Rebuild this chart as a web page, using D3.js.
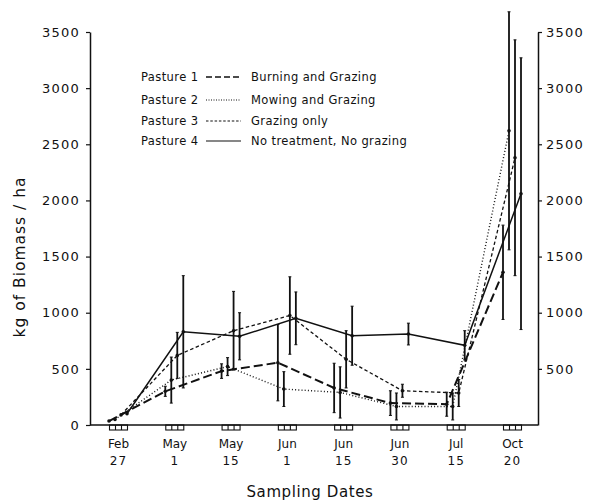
<!DOCTYPE html>
<html>
<head>
<meta charset="utf-8">
<script src="https://cdn.jsdelivr.net/npm/d3@7"></script>
<style>
  body { margin: 0; background: #fff; }
  svg { display: block; }
  text { font-family: "DejaVu Sans", sans-serif; fill: #111; }
</style>
</head>
<body>
<svg id="chart" width="589" height="500"></svg>
<script>
// ---- data ----
const months = ["Feb", "May", "May", "Jun", "Jun", "Jun", "Jul", "Oct"];
const days   = ["27", "1", "15", "1", "15", "30", "15", "20"];
const dates  = months.map((m, i) => m + " " + days[i]);

const pasture1 = [35, 300, 480, 555, 330, 195, 185, 1360];
const pasture1Err = [0, 45, 65, 340, 220, 110, 107, 420];
const pasture2 = [50, 400, 520, 320, 290, 165, 165, 2620];
const pasture2Err = [0, 205, 80, 155, 228, 120, 120, 1060];
const pasture3 = [90, 620, 840, 975, 585, 305, 285, 2380];
const pasture3Err = [0, 205, 350, 345, 255, 58, 120, 1050];
const pasture4 = [100, 830, 790, 950, 795, 810, 710, 2060];
const pasture4Err = [0, 500, 210, 235, 263, 97, 130, 1210];

const seriesNames = ["Pasture 1", "Pasture 2", "Pasture 3", "Pasture 4"];
const treatments = ["Burning and Grazing", "Mowing and Grazing", "Grazing only", "No treatment, No grazing"];
const yTicks = [0, 500, 1000, 1500, 2000, 2500, 3000, 3500];
const yTicksRight = [500, 1000, 1500, 2000, 2500, 3000, 3500];

const seriesValues = [pasture1, pasture2, pasture3, pasture4];
const seriesErrors = [pasture1Err, pasture2Err, pasture3Err, pasture4Err];

// ---- styles ----
const styles = [
  { dash: "9,4", width: 2.0 },
  { dash: "1,2.2", width: 1.4 },
  { dash: "3.5,2.5", width: 1.3 },
  { dash: null, width: 1.5 }
];

const svg = d3.select("#chart");
const mLeft = 90, mRight = 538, mTop = 32, mBottom = 425;

const x = d3.scalePoint().domain(dates).range([118, 512]);
const y = d3.scaleLinear().domain([0, 3500]).range([mBottom, mTop]);
const offset = i => (i - 1.5) * 6;

// axes
const gl = svg.append("g").attr("transform", `translate(${mLeft},0)`)
  .call(d3.axisLeft(y).tickValues(yTicks).tickSize(4).tickSizeOuter(0).tickPadding(6).tickFormat(d3.format("d")));
const gr = svg.append("g").attr("transform", `translate(${mRight},0)`)
  .call(d3.axisRight(y).tickValues(yTicksRight).tickSize(4).tickSizeOuter(0).tickPadding(4).tickFormat(d3.format("d")));
[gl, gr].forEach(g => {
  g.selectAll("path.domain").attr("stroke", "#111").attr("stroke-width", 1.5);
  g.selectAll(".tick line").attr("stroke", "#111").attr("stroke-width", 1.2);
  g.selectAll("text").style("font-size", "13px").style("letter-spacing", "1.2px")
    .style("font-family", "'DejaVu Sans', sans-serif").attr("fill", "#111");
});

// bottom axis line
svg.append("line").attr("x1", mLeft).attr("x2", mRight).attr("y1", mBottom).attr("y2", mBottom)
  .attr("stroke", "#111").attr("stroke-width", 1.5);

const gb = svg.append("g").attr("transform", `translate(0,${mBottom})`)
  .call(d3.axisBottom(x).tickSize(0).tickFormat(""));
gb.select("path.domain").remove();
gb.selectAll(".tick").each(function(d, i) {
  const t = d3.select(this);
  t.append("rect").attr("x", -9).attr("y", 0).attr("width", 18).attr("height", 5)
    .attr("fill", "none").attr("stroke", "#111").attr("stroke-width", 1.1);
  t.append("line").attr("x1", -3).attr("x2", -3).attr("y1", 0).attr("y2", 5).attr("stroke", "#111").attr("stroke-width", 1.1);
  t.append("line").attr("x1", 3).attr("x2", 3).attr("y1", 0).attr("y2", 5).attr("stroke", "#111").attr("stroke-width", 1.1);
  t.append("text").attr("y", 23).attr("text-anchor", "middle").style("font-size", "12px").text(months[i]);
  t.append("text").attr("y", 40).attr("text-anchor", "middle").style("font-size", "12px").style("letter-spacing", "1px").text(days[i]);
});

// axis titles
svg.append("text").attr("transform", "translate(25,257) rotate(-90)")
  .attr("text-anchor", "middle").style("font-size", "15.5px").style("letter-spacing", "1px")
  .text("kg of Biomass / ha");
svg.append("text").attr("x", 310).attr("y", 497).attr("text-anchor", "middle")
  .style("font-size", "15px").style("letter-spacing", "0.6px").text("Sampling Dates");

// series
seriesValues.forEach((vals, s) => {
  const data = vals.map((v, i) => ({ date: dates[i], v: v, e: seriesErrors[s][i] }));
  const line = d3.line().x(d => x(d.date) + offset(s)).y(d => y(d.v));
  const p = svg.append("path").datum(data).attr("d", line)
    .attr("fill", "none").attr("stroke", "#111").attr("stroke-width", styles[s].width);
  if (styles[s].dash) p.attr("stroke-dasharray", styles[s].dash);

  const eb = svg.append("g");
  data.filter(d => d.e > 0).forEach(d => {
    const cx = x(d.date) + offset(s);
    eb.append("line").attr("x1", cx).attr("x2", cx).attr("y1", y(d.v - d.e)).attr("y2", y(d.v + d.e))
      .attr("stroke", "#111").attr("stroke-width", 1.8);
    [d.v - d.e, d.v + d.e].forEach(val => {
      eb.append("line").attr("x1", cx - 1.5).attr("x2", cx + 1.5).attr("y1", y(val)).attr("y2", y(val))
        .attr("stroke", "#111").attr("stroke-width", 1);
    });
  });
  svg.append("g").selectAll("circle").data(data).join("circle")
    .attr("cx", d => x(d.date) + offset(s)).attr("cy", d => y(d.v)).attr("r", 1.8).attr("fill", "#111");
});

// legend
const rowsY = [77, 100, 121, 141];
const lg = svg.append("g");
seriesNames.forEach((name, i) => {
  lg.append("text").attr("x", 141).attr("y", rowsY[i] + 4).style("font-size", "11.5px").style("letter-spacing", "0.4px").text(name);
  const l = lg.append("line").attr("x1", 206).attr("x2", 241).attr("y1", rowsY[i]).attr("y2", rowsY[i])
    .attr("stroke", "#111").attr("stroke-width", i === 0 ? 1.6 : 1.2);
  const dashL = ["6,3", "1,1.5", "2.5,1.8", null][i];
  if (dashL) l.attr("stroke-dasharray", dashL);
  lg.append("text").attr("x", 251).attr("y", rowsY[i] + 4).style("font-size", "11.5px").style("letter-spacing", "0.4px").text(treatments[i]);
});
</script>
</body>
</html>
